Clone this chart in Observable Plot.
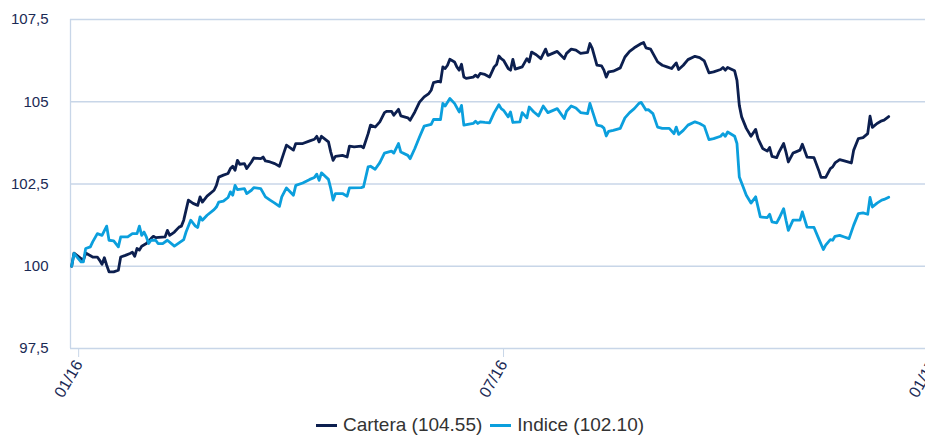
<!DOCTYPE html>
<html>
<head>
<meta charset="utf-8">
<script src="https://cdn.jsdelivr.net/npm/d3@7"></script>
<script src="https://cdn.jsdelivr.net/npm/@observablehq/plot@0.6"></script>
<style>
  html, body { margin: 0; padding: 0; overflow: hidden; background: #ffffff; }
  #wrap { position: relative; width: 960px; height: 436px; }
  #legend {
    position: absolute; left: 0; top: 414px; width: 960px;
    display: flex; justify-content: center; gap: 8px;
    font-family: "Liberation Sans", Arial, sans-serif; font-size: 19px; line-height: 22px;
    color: #333333;
  }
  #legend .item { display: flex; align-items: center; white-space: nowrap; }
  #legend .sw { display: inline-block; width: 21px; height: 3px; margin-right: 6px; margin-top: 1px; }
</style>
</head>
<body>
<div id="wrap"><div id="chart"></div><div id="legend"></div></div>
<script>
// Day offsets counted from 2016-01-01
const baseDate = "2016-01-01";
const yTicks = [97.5, 100, 102.5, 105, 107.5];
const xTicks = ["2016-01-01", "2016-07-01", "2017-01-01"];
const seriesNames = ["Cartera (104.55)", "Indice (102.10)"];
const seriesColors = ["#0c1f4f", "#0b9fdd"];

const carteraDays = [
  -3,-2,2,3,6,8,9,10,11,12,
  13,15,17,18,20,22,23,24,25,26,
  27,29,31,32,33,37,38,39,41,43,
  44,45,47,49,51,52,53,55,58,59,
  60,62,64,65,66,67,68,69,71,72,
  74,75,78,79,80,82,84,86,88,89,
  92,93,96,99,101,102,103,104,107,108,
  109,110,113,115,116,118,121,122,124,125,
  127,129,131,132,134,135,137,138,141,142,
  144,146,148,150,151,152,154,155,156,157,
  158,159,161,162,163,164,165,166,169,170,
  171,172,174,176,178,179,180,181,182,184,
  185,186,187,190,192,193,194,196,198,200,
  201,205,208,209,211,213,215,218,219,220,
  222,224,225,226,227,229,232,234,236,238,
  241,242,243,245,246,248,250,252,254,256,
  257,259,261,264,266,268,270,272,275,276,
  277,278,281,282,283,284,286,288,290,291,
  293,295,296,297,299,300,302,303,304,306,
  307,309,310,312,315,317,318,320,322,323,
  324,326,328,331,332,334,336,338,339,340,
  342,344,345,347
];
const carteraValues = [
  100.00,100.40,100.18,100.40,100.28,100.28,100.18,100.06,100.26,100.03,
  99.83,99.83,99.88,100.28,100.33,100.39,100.43,100.30,100.54,100.49,
  100.61,100.69,100.84,100.91,100.87,100.89,101.09,100.94,101.04,101.19,
  101.22,101.40,102.01,101.91,101.85,102.11,101.95,102.13,102.31,102.46,
  102.71,102.77,102.82,102.97,103.04,102.92,103.22,103.10,103.12,102.97,
  103.17,103.29,103.27,103.32,103.20,103.17,103.12,103.04,103.47,103.68,
  103.53,103.73,103.73,103.81,103.86,103.95,103.78,103.95,103.78,103.47,
  103.22,103.34,103.37,103.32,103.65,103.63,103.65,103.60,104.03,104.29,
  104.23,104.39,104.67,104.71,104.71,104.59,104.77,104.57,104.51,104.44,
  104.69,104.99,105.15,105.25,105.35,105.58,105.62,105.60,106.06,106.01,
  106.11,106.29,106.21,106.06,105.96,106.14,105.75,105.71,105.75,105.81,
  105.75,105.86,105.83,105.75,106.06,106.13,106.39,106.31,106.26,106.01,
  105.96,106.29,105.99,106.06,106.31,106.21,106.51,106.43,106.31,106.60,
  106.41,106.53,106.31,106.47,106.60,106.57,106.47,106.50,106.77,106.62,
  106.11,106.09,105.96,105.75,105.91,105.93,106.03,106.36,106.53,106.64,
  106.77,106.80,106.64,106.60,106.47,106.21,106.11,106.06,106.01,106.18,
  105.98,106.11,106.28,106.38,106.34,106.24,105.88,105.91,105.98,106.04,
  105.96,106.04,105.94,105.65,104.89,104.54,104.19,103.95,104.16,103.88,
  103.58,103.50,103.61,103.34,103.30,103.47,103.73,103.47,103.17,103.44,
  103.47,103.53,103.71,103.32,103.30,102.92,102.70,102.70,102.97,103.02,
  103.14,103.24,103.20,103.14,103.53,103.88,103.91,104.03,104.56,104.22,
  104.34,104.42,104.44,104.55
];

const indiceDays = [
  -3,-2,1,2,3,5,6,8,10,12,
  13,15,17,18,21,23,25,26,27,28,
  29,30,31,33,34,36,38,41,43,45,
  46,48,50,51,52,53,55,58,59,60,
  62,64,65,66,67,68,71,72,74,75,
  78,80,82,84,86,87,89,92,93,96,
  99,101,102,103,104,107,108,109,110,113,
  115,116,121,122,124,125,127,129,131,134,
  135,137,138,141,142,144,146,148,151,152,
  155,156,157,159,161,163,164,165,169,170,
  171,172,174,176,178,180,181,182,184,185,
  186,189,190,192,193,195,197,199,201,205,
  208,209,211,213,215,218,219,222,224,225,
  226,227,229,232,234,236,238,240,241,243,
  244,246,248,250,253,255,256,257,259,261,
  264,266,268,270,272,275,276,277,278,281,
  282,283,284,286,288,290,292,295,296,297,
  299,300,302,303,304,306,309,310,312,315,
  317,319,320,322,323,324,326,328,330,332,
  334,336,338,339,340,342,344,345,347
];
const indiceValues = [
  100.00,100.39,100.13,100.13,100.54,100.59,100.74,100.99,100.94,101.22,
  100.79,100.77,100.59,100.89,100.89,100.99,100.99,101.22,100.94,101.04,
  100.89,100.69,100.79,100.79,100.69,100.69,100.79,100.61,100.71,100.81,
  101.04,101.40,101.22,101.18,101.50,101.40,101.55,101.72,101.80,101.95,
  101.98,102.09,102.26,102.16,102.46,102.33,102.36,102.21,102.31,102.39,
  102.36,102.11,102.01,101.92,101.82,102.11,102.38,102.16,102.46,102.53,
  102.64,102.70,102.80,102.61,102.84,102.64,102.36,102.01,102.21,102.21,
  102.13,102.38,102.39,102.41,103.02,103.04,102.95,103.15,103.44,103.50,
  103.44,103.73,103.47,103.37,103.27,103.58,103.93,104.26,104.31,104.46,
  104.46,104.95,104.87,105.10,104.95,104.69,104.89,104.29,104.34,104.41,
  104.34,104.39,104.37,104.36,104.67,104.91,104.79,104.74,104.54,104.69,
  104.37,104.39,104.67,104.51,104.84,104.69,104.57,104.87,104.67,104.79,
  104.49,104.71,104.87,104.81,104.67,104.64,104.95,104.29,104.26,104.20,
  103.96,104.10,104.13,104.19,104.51,104.67,104.79,104.95,104.98,104.75,
  104.76,104.64,104.23,104.19,104.19,104.03,104.23,104.01,104.13,104.29,
  104.39,104.34,104.26,103.85,103.88,103.95,104.03,103.95,104.08,103.95,
  103.73,102.71,102.53,102.16,101.92,102.11,101.50,101.48,101.58,101.35,
  101.32,101.45,101.75,101.40,101.09,101.40,101.40,101.65,101.19,101.18,
  100.84,100.51,100.64,100.81,100.79,100.91,100.94,100.89,100.84,101.25,
  101.60,101.62,101.58,102.09,101.80,101.92,102.01,102.03,102.10
];

const base = new Date(baseDate + "T00:00:00Z");
const build = (days, values) => days.map((d, i) => ({date: d3.utcDay.offset(base, d), value: values[i]}));
const cartera = build(carteraDays, carteraValues);
const indice = build(indiceDays, indiceValues);

const gridColor = "#c8d6e8";
const xStart = new Date("2015-12-28T12:00:00Z");
const xEnd = new Date("2017-01-12T18:00:00Z");

const chart = Plot.plot({
  width: 960,
  height: 400,
  marginLeft: 70,
  marginRight: 0,
  marginTop: 19,
  marginBottom: 52,
  style: {fontFamily: "'Liberation Sans', Arial, sans-serif", color: "#1b2a55", background: "transparent"},
  x: {type: "utc", domain: [xStart, xEnd]},
  y: {domain: [97.5, 107.5]},
  marks: [
    Plot.ruleY(yTicks, {stroke: gridColor, strokeWidth: 1.3}),
    Plot.ruleX([xStart], {y1: 97.5, y2: 107.5, stroke: gridColor, strokeWidth: 1.3}),
    Plot.axisY({ticks: yTicks, tickSize: 0, tickPadding: 22, fontSize: 15, label: null,
      tickFormat: d => String(d).replace(".", ",")}),
    Plot.axisX({ticks: xTicks.map(s => new Date(s + "T00:00:00Z")), tickFormat: d3.utcFormat("%m/%y"),
      tickRotate: -60, tickSize: 9, tickPadding: 4, stroke: gridColor, fontSize: 16, label: null}),
    Plot.lineY(cartera, {x: "date", y: "value", stroke: seriesColors[0], strokeWidth: 2.8}),
    Plot.lineY(indice, {x: "date", y: "value", stroke: seriesColors[1], strokeWidth: 2.8})
  ]
});
document.getElementById("chart").appendChild(chart);

const legend = document.getElementById("legend");
seriesNames.forEach((name, i) => {
  const item = document.createElement("span");
  item.className = "item";
  const sw = document.createElement("span");
  sw.className = "sw";
  sw.style.background = seriesColors[i];
  item.appendChild(sw);
  item.appendChild(document.createTextNode(name));
  legend.appendChild(item);
});
</script>
</body>
</html>
